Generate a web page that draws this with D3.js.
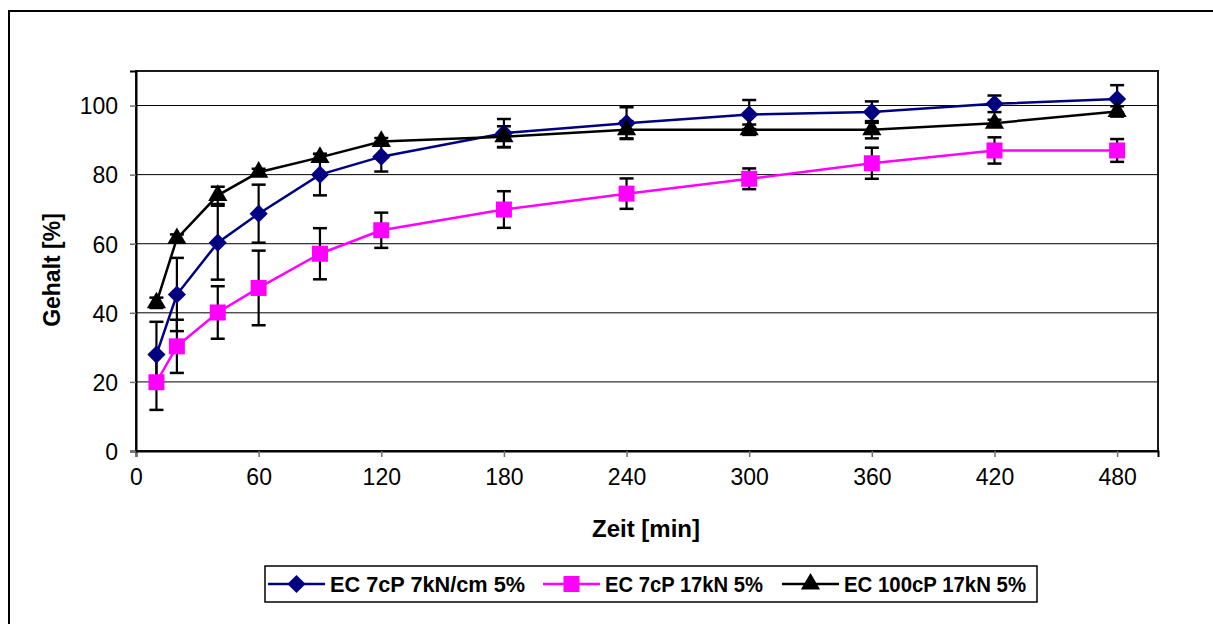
<!DOCTYPE html>
<html>
<head>
<meta charset="utf-8">
<script src="https://cdn.jsdelivr.net/npm/d3@7"></script>
<style>
  body { margin: 0; background: #fff; }
  svg { display: block; font-family: "Liberation Sans", Arial, sans-serif; }
</style>
</head>
<body>
<div id="chart"></div>
<script>
// Zeitpunkte [min]
var times = [10, 20, 40, 60, 90, 120, 180, 240, 300, 360, 420, 480];

// Gehalt [%] und Standardabweichung je Formulierung
var ec7kn = [27.9, 45.3, 60.3, 68.7, 80.0, 85.2, 92.0, 94.9, 97.4, 98.1, 100.5, 101.9];
var ec7knErr = [9.5, 10.6, 10.7, 8.4, 6.0, 4.3, 4.1, 4.6, 4.2, 3.1, 2.4, 4.0];
var ec17kn = [19.9, 30.3, 40.1, 47.2, 57.1, 63.9, 69.9, 74.5, 78.8, 83.3, 87.0, 87.0];
var ec17knErr = [8.0, 7.7, 7.6, 10.8, 7.4, 5.1, 5.3, 4.4, 3.0, 4.5, 3.8, 3.3];
var ec100 = [42.9, 61.5, 74.0, 80.7, 85.0, 89.6, 91.0, 93.0, 93.0, 93.0, 94.9, 98.3];
var ec100Err = [1.5, 1.2, 2.5, 1.0, 1.0, 1.0, 3.0, 2.5, 1.5, 2.5, 1.0, 1.5];

var seriesNames = ["EC 7cP 7kN/cm 5%", "EC 7cP 17kN 5%", "EC 100cP 17kN 5%"];
var xTicks = [0, 60, 120, 180, 240, 300, 360, 420, 480];
var yTicks = [0, 20, 40, 60, 80, 100];

var series = [
  { name: seriesNames[0], values: ec7kn, err: ec7knErr, color: "#000080", symbol: d3.symbolDiamond2, size: 210 },
  { name: seriesNames[1], values: ec17kn, err: ec17knErr, color: "#FF00FF", symbol: d3.symbolSquare, size: 256 },
  { name: seriesNames[2], values: ec100, err: ec100Err, color: "#000000", symbol: d3.symbolTriangle, size: 160 },
];

var W = 1213, H = 624;
var margin = { top: 71, right: 55, bottom: 173, left: 136 };

var svg = d3.select("#chart").append("svg")
  .attr("width", W)
  .attr("height", H);

// outer chart frame (runs off the right and bottom edge)
svg.append("path")
  .attr("d", "M9,624 V11 H1213")
  .attr("fill", "none")
  .attr("stroke", "#000")
  .attr("stroke-width", 2);

var x = d3.scaleLinear().domain([0, 500]).range([margin.left, W - margin.right]);
var y = d3.scaleLinear().domain([0, 110]).range([H - margin.bottom, margin.top]);

// gridlines
svg.append("g")
  .selectAll("line")
  .data(yTicks.filter((d) => d > 0))
  .enter()
  .append("line")
  .attr("x1", x(0))
  .attr("x2", x(500))
  .attr("y1", (d) => y(d))
  .attr("y2", (d) => y(d))
  .attr("stroke", "#000")
  .attr("stroke-width", 1);

// plot border
svg.append("rect")
  .attr("x", x(0))
  .attr("y", y(110))
  .attr("width", x(500) - x(0))
  .attr("height", y(0) - y(110))
  .attr("fill", "none")
  .attr("stroke", "#1a1a1a")
  .attr("stroke-width", 2);

// axes
var xAxis = svg.append("g")
  .attr("transform", "translate(0," + y(0) + ")")
  .call(d3.axisBottom(x).tickValues(xTicks).tickSize(6).tickPadding(12));
var yAxis = svg.append("g")
  .attr("transform", "translate(" + x(0) + ",0)")
  .call(d3.axisLeft(y).tickValues(yTicks).tickSize(6).tickPadding(12));

[xAxis, yAxis].forEach(function (ax) {
  ax.select(".domain").attr("stroke", "#000").attr("stroke-width", 2);
  ax.selectAll(".tick line").attr("stroke", "#707070").attr("stroke-width", 1.5);
  ax.selectAll(".tick text")
    .attr("fill", "#000")
    .style("font-size", "23px")
    .style("font-family", "'Liberation Sans', Arial, sans-serif");
});
yAxis.selectAll(".tick text").attr("dy", "0.36em");

// axis titles
svg.append("text")
  .attr("x", 646)
  .attr("y", 537)
  .attr("text-anchor", "middle")
  .style("font-size", "24px")
  .style("font-weight", "bold")
  .text("Zeit [min]");

svg.append("text")
  .attr("transform", "translate(60,270) rotate(-90)")
  .attr("text-anchor", "middle")
  .style("font-size", "23px")
  .style("font-weight", "bold")
  .text("Gehalt [%]");

// error bars
series.forEach(function (s) {
  var g = svg.append("g").attr("class", "errors");
  times.forEach(function (t, i) {
    var cx = x(t), lo = y(s.values[i] - s.err[i]), hi = y(s.values[i] + s.err[i]);
    g.append("line").attr("x1", cx).attr("x2", cx).attr("y1", lo).attr("y2", hi)
      .attr("stroke", "#000").attr("stroke-width", 2.2);
    [lo, hi].forEach(function (yy) {
      g.append("line").attr("x1", cx - 7).attr("x2", cx + 7).attr("y1", yy).attr("y2", yy)
        .attr("stroke", "#000").attr("stroke-width", 2.5);
    });
  });
});

// lines and markers
var line = d3.line()
  .x((d, i) => x(times[i]))
  .y((d) => y(d));

series.forEach(function (s) {
  svg.append("path")
    .datum(s.values)
    .attr("d", line)
    .attr("fill", "none")
    .attr("stroke", s.color)
    .attr("stroke-width", 2.5);

  svg.append("g")
    .selectAll("path")
    .data(s.values)
    .enter()
    .append("path")
    .attr("transform", (d, i) => "translate(" + x(times[i]) + "," + y(d) + ")")
    .attr("d", d3.symbol().type(s.symbol).size(s.size))
    .attr("fill", s.color);
});

// legend
var legendBox = { x: 265, y: 566, w: 772, h: 36 };
svg.append("rect")
  .attr("x", legendBox.x)
  .attr("y", legendBox.y)
  .attr("width", legendBox.w)
  .attr("height", legendBox.h)
  .attr("fill", "#fff")
  .attr("stroke", "#000")
  .attr("stroke-width", 1.5);

var legendX = [268, 543, 782];
var legendTextW = [195, 158, 182];
var legend = svg.selectAll(".legend")
  .data(series)
  .enter()
  .append("g")
  .attr("class", "legend")
  .attr("transform", (d, i) => "translate(" + legendX[i] + "," + (legendBox.y + legendBox.h / 2) + ")");

legend.append("line")
  .attr("x1", 0).attr("x2", 57)
  .attr("stroke", (d) => d.color)
  .attr("stroke-width", 2.5);

legend.append("path")
  .attr("transform", "translate(28.5,0)")
  .attr("d", (d) => d3.symbol().type(d.symbol).size(d.size)())
  .attr("fill", (d) => d.color);

legend.append("text")
  .attr("x", 62)
  .attr("dy", "0.36em")
  .attr("textLength", (d, i) => legendTextW[i])
  .attr("lengthAdjust", "spacingAndGlyphs")
  .style("font-size", "22px")
  .style("font-weight", "bold")
  .text((d) => d.name);
</script>
</body>
</html>
